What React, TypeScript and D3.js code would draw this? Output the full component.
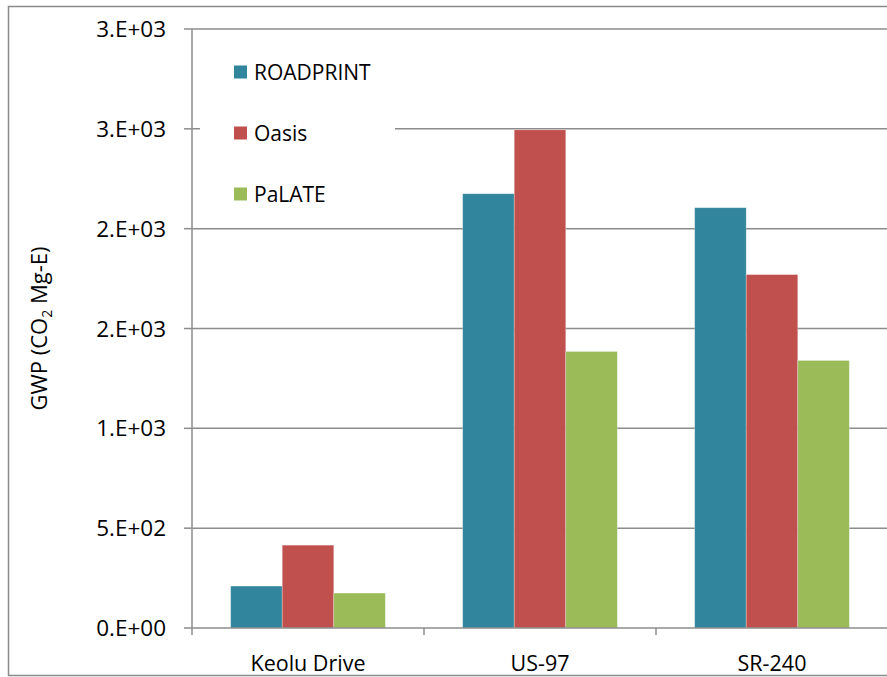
import React from "react";
import * as d3 from "d3";

const categories = ["Keolu Drive", "US-97", "SR-240"];
const seriesNames = ["ROADPRINT", "Oasis", "PaLATE"];
const roadprint = [210, 2175, 2105];
const oasis = [415, 2495, 1770];
const palate = [175, 1385, 1340];
const yTicks = [0, 500, 1000, 1500, 2000, 2500, 3000];
const colors = ["#31859C", "#C0504D", "#9BBB59"];

const seriesValues = [roadprint, oasis, palate];

function fmt(v: number): string {
  if (v === 0) return "0.E+00";
  const s = v.toExponential(0);
  const [m, e] = s.split("e");
  const exp = parseInt(e, 10);
  const sign = exp < 0 ? "-" : "+";
  return `${m}.E${sign}${String(Math.abs(exp)).padStart(2, "0")}`;
}

export default function App() {
  const W = 887;
  const H = 677;
  const left = 192;
  const right = 888;
  const top = 29;
  const bottom = 628;
  const font = "'Open Sans', sans-serif";
  const grid = "#8c8c8c";

  const y = d3.scaleLinear().domain([0, 3000]).range([bottom, top]);
  const x0 = d3.scaleBand<string>().domain(categories).range([left, right]).padding(0);
  const x1 = d3
    .scaleBand<string>()
    .domain(seriesNames)
    .range([0, x0.bandwidth()])
    .paddingInner(0)
    .paddingOuter(0.75);

  const catTicks = [left, ...categories.map((c) => (x0(c) as number) + x0.bandwidth())];

  return (
    <div style={{ position: "absolute", left: 0, top: 0, width: W, height: H, overflow: "hidden" }}>
      <svg width={W} height={H} style={{ display: "block", background: "#fff" }}>
        <rect x={8.5} y={6.5} width={W} height={669} fill="#fff" stroke="#8a8a8a" strokeWidth={1.5} />
        {yTicks.filter((t) => t > 0).map((t) => (
          <line key={t} x1={left} x2={W} y1={y(t)} y2={y(t)} stroke={grid} strokeWidth={1.5} />
        ))}
        <rect x={200} y={44} width={195} height={170} fill="#fff" />
        {categories.map((c, ci) =>
          seriesNames.map((s, si) => {
            const v = seriesValues[si][ci];
            const bx = (x0(c) as number) + (x1(s) as number);
            return (
              <rect
                key={c + s}
                x={bx}
                y={y(v)}
                width={x1.bandwidth()}
                height={y(0) - y(v)}
                fill={colors[si]}
                stroke="#ffffff"
                strokeOpacity={0.35}
                strokeWidth={0.8}
              />
            );
          })
        )}
        <line x1={left} x2={left} y1={top} y2={bottom} stroke={grid} strokeWidth={1.5} />
        {yTicks.map((t) => (
          <g key={"yt" + t}>
            <line x1={184} x2={left} y1={y(t)} y2={y(t)} stroke={grid} strokeWidth={1.5} />
            <text
              x={166}
              y={y(t)}
              dy="0.36em"
              textAnchor="end"
              fontFamily={font}
              fontSize={22.5}
              fill="#000"
            >
              {fmt(t)}
            </text>
          </g>
        ))}
        <line x1={left} x2={W} y1={bottom} y2={bottom} stroke={grid} strokeWidth={1.5} />
        {catTicks.map((tx, i) => (
          <line key={"xt" + i} x1={tx} x2={tx} y1={bottom} y2={bottom + 7} stroke={grid} strokeWidth={1.5} />
        ))}
        {categories.map((c) => (
          <text
            key={"xl" + c}
            x={(x0(c) as number) + x0.bandwidth() / 2}
            y={671}
            textAnchor="middle"
            fontFamily={font}
            fontSize={21.5}
            fill="#000"
          >
            {c}
          </text>
        ))}
        <text
          transform={`translate(47, ${(top + bottom) / 2}) rotate(-90)`}
          textAnchor="middle"
          fontFamily={font}
          fontSize={22}
          fill="#000"
        >
          GWP (CO<tspan dy="5" fontSize={14}>2</tspan>
          <tspan dy="-5"> Mg-E)</tspan>
        </text>
        {seriesNames.map((s, i) => (
          <g key={"lg" + s} transform={`translate(234, ${72 + i * 61})`}>
            <rect x={0} y={-6.5} width={13} height={13} fill={colors[i]} />
            <text x={20} y={0} dy="0.36em" fontFamily={font} fontSize={21} fill="#000">
              {s}
            </text>
          </g>
        ))}
      </svg>
    </div>
  );
}
